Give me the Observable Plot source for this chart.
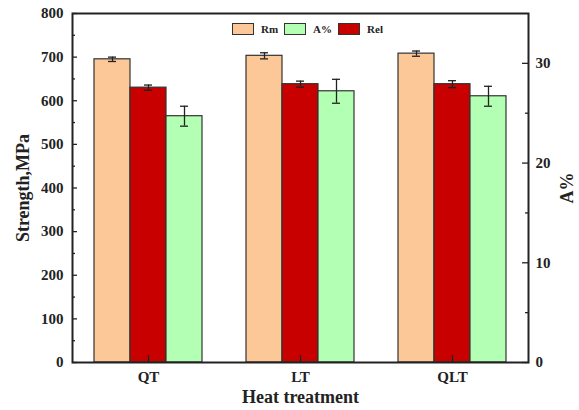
<!DOCTYPE html>
<html><head><meta charset="utf-8">
<script src="https://cdn.jsdelivr.net/npm/d3@7"></script>
<script src="https://cdn.jsdelivr.net/npm/@observablehq/plot@0.6"></script>
<style>
body{margin:0;background:#fff;}
#wrap{position:relative;width:579px;height:410px;font-family:"Liberation Serif",serif;}
#legend{position:absolute;top:23px;left:232px;display:flex;align-items:center;font-weight:bold;font-size:11px;color:#222;}
#legend .sw{width:20px;height:10px;border:1px solid #333;margin-right:7px;}
#legend .lb{margin-right:6px;}
svg text{font-family:"Liberation Serif",serif;}
</style>
</head><body>
<div id="wrap"><div id="chart"></div><div id="legend"></div></div>
<script>
const groups = ["QT", "LT", "QLT"];
const seriesNames = ["Rm", "A%", "Rel"];
const seriesColors = ["#FDC897", "#B3FFB3", "#C80000"];
const rmVals = [695, 703, 708];
const rmErr = [5, 7, 6];
const relVals = [630, 638, 638];
const relErr = [6, 7, 8];
const aVals = [24.7, 27.2, 26.7];
const aErr = [1.0, 1.2, 1.0];
const leftTicks = [0, 100, 200, 300, 400, 500, 600, 700, 800];
const leftMinor = [50, 150, 250, 350, 450, 550, 650, 750];
const rightTicks = [0, 10, 20, 30];
const rightMinor = [5, 15, 25];
const leftMax = 800, rightMax = 35;
const k = leftMax / rightMax;

const rows = [];
groups.forEach((g, i) => {
  rows.push({g, s: "Rm", v: rmVals[i], e: rmErr[i]});
  rows.push({g, s: "Rel", v: relVals[i], e: relErr[i]});
  rows.push({g, s: "A%", v: aVals[i] * k, e: aErr[i] * k});
});
const color = s => seriesColors[seriesNames.indexOf(s)];
const slot = {Rm: [22, 94, -36], Rel: [58, 58, 0], "A%": [94, 22, 36]};
const FF = "'Liberation Serif', serif";

const marks = [];
for (const s of ["Rm", "Rel", "A%"]) {
  const d = rows.filter(r => r.s === s);
  const [il, ir, dx] = slot[s];
  marks.push(Plot.barY(d, {x: "g", y: "v", fill: color(s), stroke: "#333", strokeWidth: 1.2, insetLeft: il, insetRight: ir}));
  marks.push(Plot.ruleX(d, {x: "g", y1: r => r.v - r.e, y2: r => r.v + r.e, dx, stroke: "#222", strokeWidth: 1.3}));
  marks.push(Plot.tickY(d, {x: "g", y: r => r.v - r.e, dx, insetLeft: 72, insetRight: 72, stroke: "#222", strokeWidth: 1.3}));
  marks.push(Plot.tickY(d, {x: "g", y: r => r.v + r.e, dx, insetLeft: 72, insetRight: 72, stroke: "#222", strokeWidth: 1.3}));
}

const tl = {fontFamily: FF, fontSize: 15, fontWeight: "bold", label: null, tickSize: 0};
const chart = Plot.plot({
  width: 579, height: 410,
  marginLeft: 72, marginRight: 51, marginTop: 13, marginBottom: 48,
  style: {fontFamily: FF, fontSize: "15px", fontWeight: "bold", color: "#222", background: "#fff"},
  x: {domain: groups, padding: 0},
  y: {domain: [0, leftMax]},
  marks: [
    ...marks,
    Plot.axisY({...tl, ticks: leftTicks, tickPadding: 9}),
    Plot.axisY({ticks: leftTicks, tickSize: -5, fill: "none", label: null, strokeWidth: 1.3}),
    Plot.axisY({ticks: leftMinor, tickSize: -3, fill: "none", label: null, strokeWidth: 1.3}),
    Plot.axisY({...tl, ticks: rightTicks.map(v => v * k), anchor: "right", tickPadding: 7, tickFormat: d => String(Math.round(d / k))}),
    Plot.axisY({ticks: rightTicks.map(v => v * k), anchor: "right", tickSize: -7, fill: "none", label: null, strokeWidth: 1.3}),
    Plot.axisY({ticks: rightMinor.map(v => v * k), anchor: "right", tickSize: -4, fill: "none", label: null, strokeWidth: 1.3}),
    Plot.axisX({...tl, tickPadding: 9}),
    Plot.axisX({tickSize: -7, fill: "none", label: null, strokeWidth: 1.3}),
    Plot.frame({stroke: "#222", strokeWidth: 2}),
    Plot.text(["Strength,MPa"], {frameAnchor: "left", dx: -49, rotate: -90, textAnchor: "middle", lineAnchor: "middle", fontSize: 18, fontWeight: "bold", fontFamily: FF}),
    Plot.text(["A%"], {frameAnchor: "right", dx: 39, rotate: -90, textAnchor: "middle", lineAnchor: "middle", fontSize: 18, fontWeight: "bold", fontFamily: FF}),
    Plot.text(["Heat treatment"], {frameAnchor: "bottom", dy: 35, textAnchor: "middle", lineAnchor: "middle", fontSize: 18, fontWeight: "bold", fontFamily: FF})
  ]
});
document.getElementById("chart").appendChild(chart);

const leg = document.getElementById("legend");
seriesNames.forEach((s, i) => {
  const sw = document.createElement("div"); sw.className = "sw"; sw.style.background = seriesColors[i];
  const lb = document.createElement("div"); lb.className = "lb"; lb.textContent = s;
  leg.appendChild(sw); leg.appendChild(lb);
});
</script>
</body></html>
